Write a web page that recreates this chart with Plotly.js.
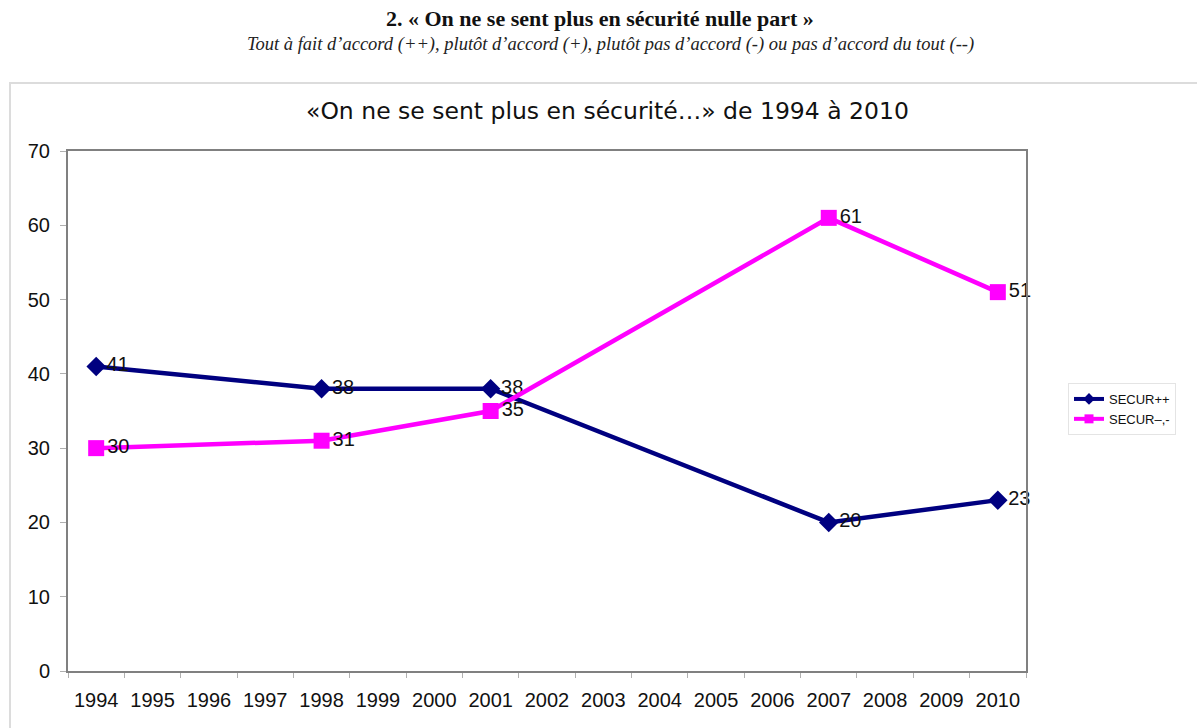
<!DOCTYPE html>
<html><head><meta charset="utf-8">
<script src="https://cdn.plot.ly/plotly-3.0.1.min.js"></script>
<style>html,body{margin:0;padding:0;background:#fff}#chart{width:1197px;height:728px}</style>
</head><body><div id="chart"></div>
<script>
const years = [1994,1995,1996,1997,1998,1999,2000,2001,2002,2003,2004,2005,2006,2007,2008,2009,2010];
const dataYears = [1994, 1998, 2001, 2007, 2010];
const securPlusPlus = [41, 38, 38, 20, 23];
const securMoinsMoins = [30, 31, 35, 61, 51];
const seriesNames = ['SECUR++', 'SECUR\u2013,-'];
const pageTitle = '2. « On ne se sent plus en sécurité nulle part »';
const pageSubtitle = 'Tout à fait d’accord (++), plutôt d’accord (+), plutôt pas d’accord (-) ou pas d’accord du tout (--)';
const chartTitle = '«On ne se sent plus en sécurité…» de 1994 à 2010';

const L = 68, R = 1026, T = 151, B = 671;
const W = R - L, H = B - T;
const px = x => (x - L) / W;
const py = y => (B - y) / H;
const colors = ['#000080', '#FF00FF'];
const symbols = ['diamond', 'square'];
const sizes = [15, 16];
const series = [securPlusPlus, securMoinsMoins];
const labelFont = {family: 'Liberation Sans, Arial, sans-serif', size: 20, color: '#111'};

const traces = [];
series.forEach((vals, i) => {
  traces.push({x: dataYears, y: vals, name: seriesNames[i], type: 'scatter', mode: 'lines+markers+text',
    line: {color: colors[i], width: 4.5}, marker: {symbol: symbols[i], size: sizes[i], color: colors[i]},
    text: vals.map(String), textposition: 'middle right', textfont: labelFont,
    cliponaxis: false, showlegend: false});
});
series.forEach((vals, i) => {
  traces.push({x: [null], y: [null], name: seriesNames[i], type: 'scatter', mode: 'lines+markers',
    line: {color: colors[i], width: 4}, marker: {symbol: symbols[i], size: 9, color: colors[i]},
    showlegend: true});
});

const layout = {
  width: 1197, height: 728,
  margin: {l: L, r: 1197 - R, t: T, b: 728 - B, pad: 0},
  paper_bgcolor: '#fff', plot_bgcolor: '#fff',
  font: {family: 'Liberation Sans, Arial, sans-serif', color: '#111'},
  showlegend: true,
  legend: {x: px(1068), y: py(383), xanchor: 'left', yanchor: 'top',
    bordercolor: '#e4e4e4', borderwidth: 1, bgcolor: '#fff',
    font: {size: 13, color: '#111'}, tracegroupgap: 0, itemwidth: 30},
  xaxis: {range: [1993.5, 2010.5], tickvals: years, ticktext: years.map(String),
    ticks: '', showgrid: false, zeroline: false, showline: true, linecolor: '#808080', linewidth: 2, mirror: true,
    tickfont: {size: 20, color: '#111'}, ticklabelstandoff: 10, fixedrange: true,
    minor: {tick0: 1993.5, dtick: 1, ticks: 'outside', ticklen: 5, tickcolor: '#b0b0b0', showgrid: false}},
  yaxis: {range: [0, 70], dtick: 10, ticks: 'outside', ticklen: 6, tickcolor: '#b0b0b0',
    showgrid: false, zeroline: false, showline: true, linecolor: '#808080', linewidth: 2, mirror: true,
    tickfont: {size: 20, color: '#111'}, ticklabelstandoff: 6},
  shapes: [
    {type: 'rect', xref: 'paper', yref: 'paper', x0: px(10), x1: px(1200), y0: py(735), y1: py(83),
     line: {color: '#dcdcdc', width: 2}, fillcolor: 'rgba(0,0,0,0)', layer: 'below'}
  ],
  annotations: [
    {text: '<b>' + pageTitle + '</b>', xref: 'paper', yref: 'paper', x: px(600), y: py(18),
     showarrow: false, xanchor: 'center', yanchor: 'middle',
     font: {family: 'Liberation Serif, Times New Roman, serif', size: 22, color: '#111'}},
    {text: '<i>' + pageSubtitle + '</i>', xref: 'paper', yref: 'paper', x: px(610), y: py(44),
     showarrow: false, xanchor: 'center', yanchor: 'middle',
     font: {family: 'Liberation Serif, Times New Roman, serif', size: 18.5, color: '#222'}},
    {text: chartTitle, xref: 'paper', yref: 'paper', x: px(607), y: py(111),
     showarrow: false, xanchor: 'center', yanchor: 'middle',
     font: {family: 'DejaVu Sans, sans-serif', size: 23.5, color: '#111'}}
  ]
};

Plotly.newPlot('chart', traces, layout, {displayModeBar: false, staticPlot: true});
</script>
</body></html>
